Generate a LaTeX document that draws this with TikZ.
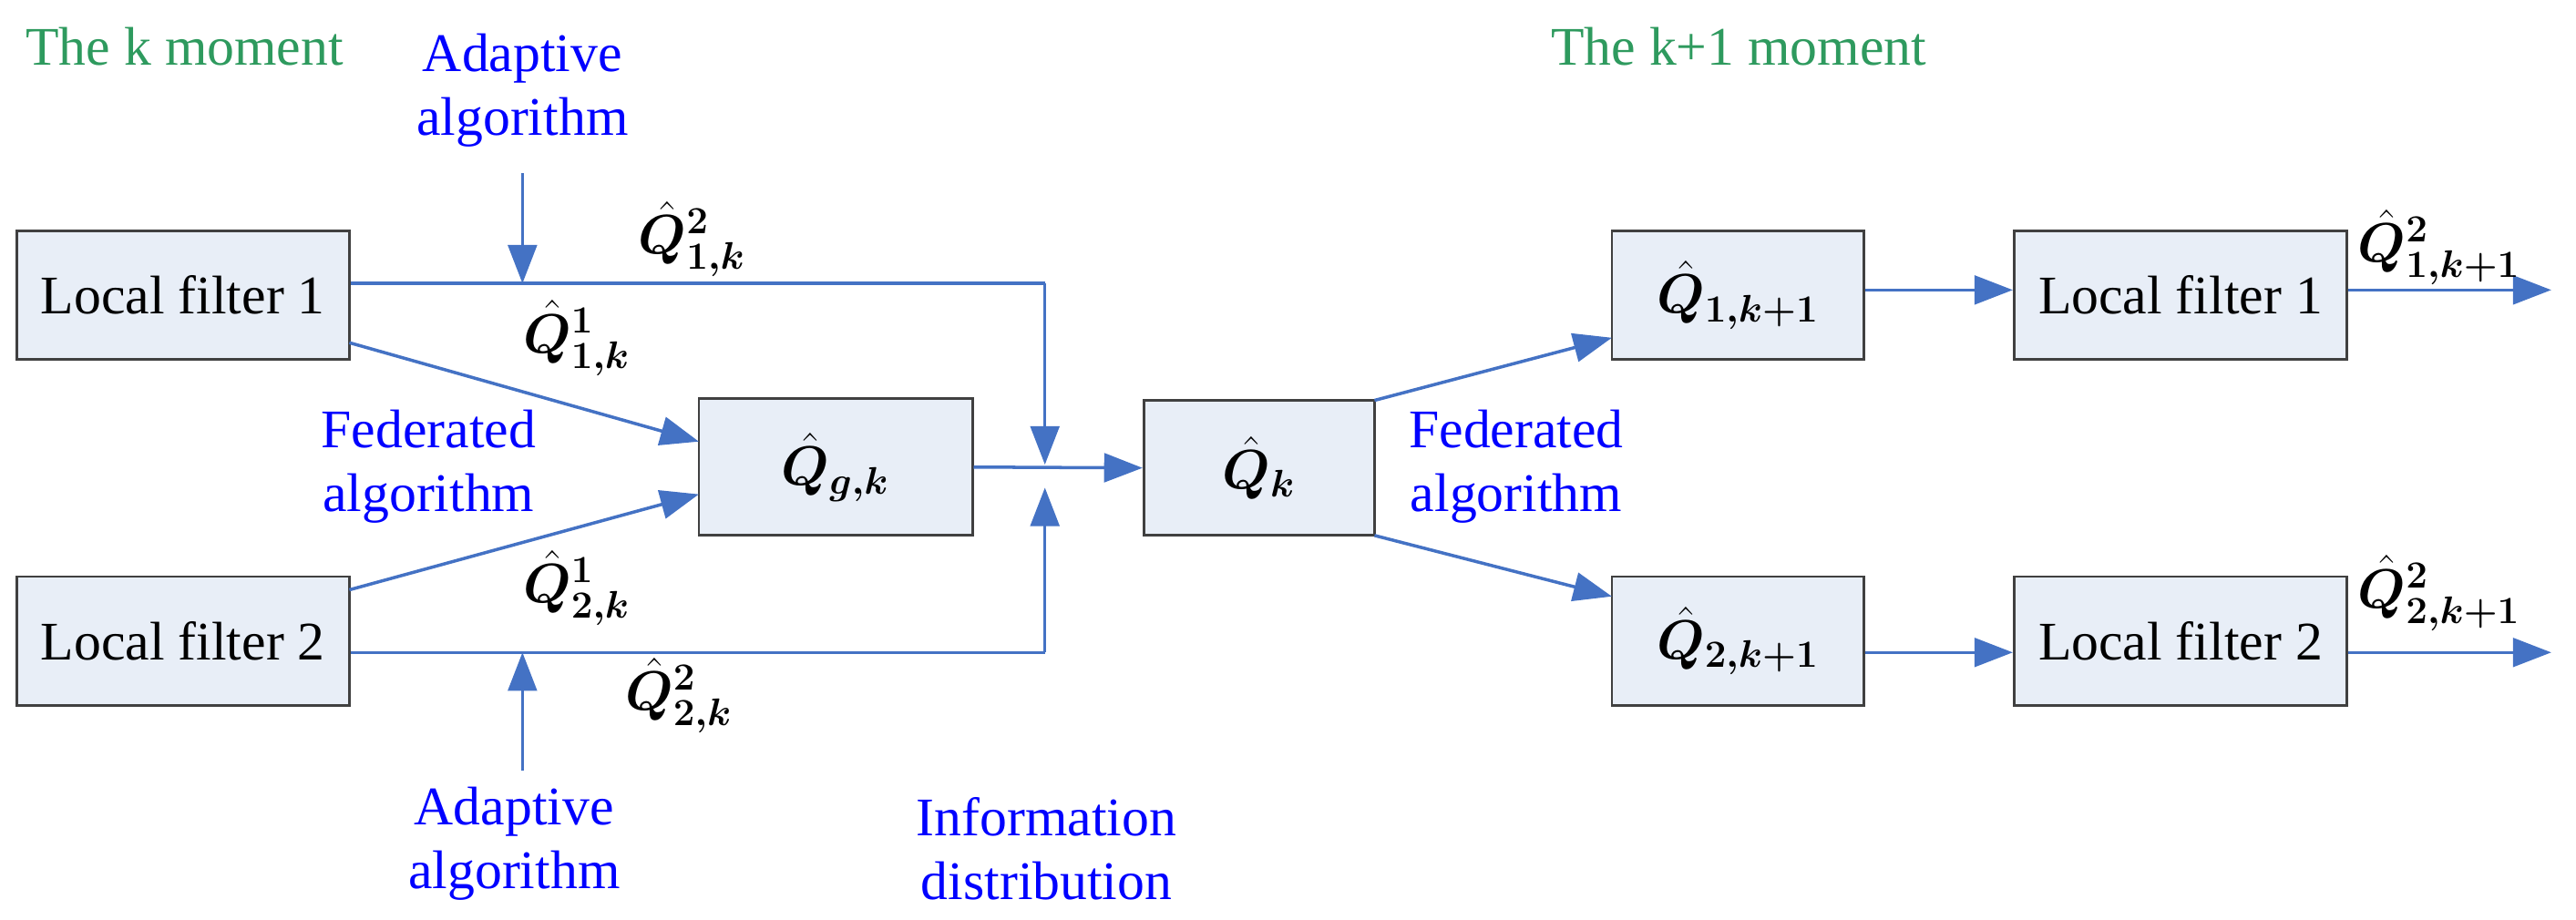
\documentclass[tikz,border=0pt]{standalone}
\usepackage{amsmath,bm}
\usepackage{fontspec}
\setmainfont{Liberation Serif}
\usetikzlibrary{arrows.meta}
\definecolor{ln}{HTML}{4472C4}
\definecolor{bx}{HTML}{E8EEF7}
\definecolor{gr}{HTML}{2E9A5E}
\begin{document}
\begin{tikzpicture}[x=0.01809cm,y=-0.01809cm,
  box/.style={draw=black!75,fill=bx,line width=0.8pt,inner sep=0pt,font=\fontsize{17}{20}\selectfont},
  con/.style={draw=ln,line width=1pt,-{Triangle[length=12pt,width=9pt]}},
  ln/.style={draw=ln,line width=1pt},
  bl/.style={text=blue,font=\fontsize{17}{20}\selectfont,align=center},
  gt/.style={text=gr,font=\fontsize{17}{20}\selectfont},
  ml/.style={font=\fontsize{17}{20}\selectfont,inner sep=1pt}]
\useasboundingbox (0,0) rectangle (1563,558);
\node[box,minimum width=3.654cm,minimum height=1.411cm] (lf1) at (111,179) {Local filter 1};
\node[box,minimum width=3.654cm,minimum height=1.411cm] (lf2) at (111,389) {Local filter 2};
\node[box,minimum width=3.003cm,minimum height=1.502cm] (qg) at (507,283.5) {$\bm{\hat{Q}_{g,k}}$};
\node[box,minimum width=2.533cm,minimum height=1.483cm] (qk) at (764,284) {$\bm{\hat{Q}_{k}}$};
\node[box,minimum width=2.768cm,minimum height=1.411cm] (q1) at (1054.5,179) {$\bm{\hat{Q}_{1,k+1}}$};
\node[box,minimum width=2.768cm,minimum height=1.411cm] (q2) at (1054.5,389) {$\bm{\hat{Q}_{2,k+1}}$};
\node[box,minimum width=3.654cm,minimum height=1.411cm] (rf1) at (1323,179) {Local filter 1};
\node[box,minimum width=3.654cm,minimum height=1.411cm] (rf2) at (1323,389) {Local filter 2};
\coordinate (j1) at (634,172); \coordinate (j2) at (634,396);
\coordinate (jt) at (634,282); \coordinate (jb) at (634,296);
\coordinate (a1) at (317,105); \coordinate (a1e) at (317,172);
\coordinate (a2) at (317,468); \coordinate (a2e) at (317,396);
\coordinate (o1) at (1548,176); \coordinate (o2) at (1548,396);
\draw[ln] (lf1.east|-j1) -- (j1);
\draw[con] (j1) -- (jt);
\draw[ln] (lf2.east|-j2) -- (j2);
\draw[con] (j2) -- (jb);
\draw[con] (a1) -- (a1e);
\draw[con] (a2) -- (a2e);
\draw[con] (212,208) -- (424,268);
\draw[con] (212,358) -- (424,300);
\draw[con] (qg.east) -- (qk.west);
\draw[con] (834,243) -- (978,205);
\draw[con] (834,325) -- (978,362);
\draw[con] (q1.east|-o1) -- (rf1.west|-o1);
\draw[con] (rf1.east|-o1) -- (o1);
\draw[con] (q2.east|-o2) -- (rf2.west|-o2);
\draw[con] (rf2.east|-o2) -- (o2);
\node[gt] (t1) at (112,28) {The k moment};
\node[gt] (t2) at (1055,28) {The k+1 moment};
\node[bl] (ad1) at (317,55) {Adaptive\\algorithm};
\node[bl] (ad2) at (312,512) {Adaptive\\algorithm};
\node[bl] (fa1) at (260,283) {Federated\\algorithm};
\node[bl] (fa2) at (920,283) {Federated\\algorithm};
\node[bl] (id) at (635,515) {Information\\distribution};
\node[ml] (l1) at (420,145) {$\bm{\hat{Q}^2_{1,k}}$};
\node[ml] (l2) at (350,205) {$\bm{\hat{Q}^1_{1,k}}$};
\node[ml] (l3) at (350,357) {$\bm{\hat{Q}^1_{2,k}}$};
\node[ml] (l4) at (412,422) {$\bm{\hat{Q}^2_{2,k}}$};
\node[ml] (l5) at (1480,150) {$\bm{\hat{Q}^2_{1,k+1}}$};
\node[ml] (l6) at (1480,360) {$\bm{\hat{Q}^2_{2,k+1}}$};
\end{tikzpicture}
\end{document}
